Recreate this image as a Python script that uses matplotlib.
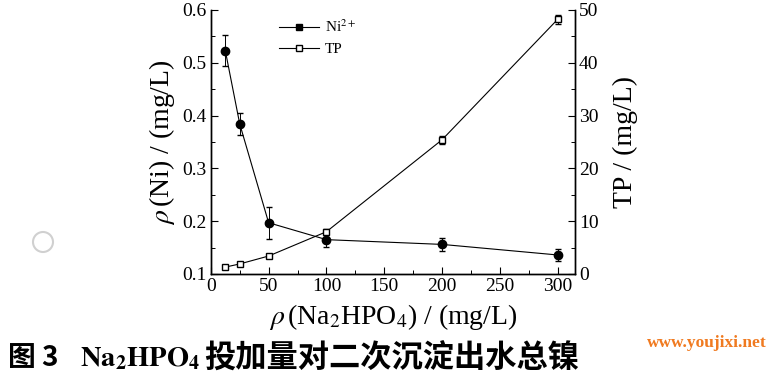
import numpy as np
import matplotlib
matplotlib.use("Agg")
import matplotlib.pyplot as plt
from matplotlib.ticker import MultipleLocator
from matplotlib.patches import Ellipse

plt.rcParams["font.family"] = ["Liberation Serif", "Noto Sans CJK SC"]
plt.rcParams["mathtext.fontset"] = "stix"

# data
dose = [12.5, 25, 50, 100, 200, 300]            # Na2HPO4, mg/L
ni = [0.523, 0.384, 0.197, 0.165, 0.156, 0.136]  # mg/L
ni_err = [0.030, 0.020, 0.030, 0.013, 0.012, 0.012]
tp = [1.3, 1.9, 3.4, 8.0, 25.4, 48.2]            # mg/L
tp_err = [0.3, 0.3, 0.4, 0.6, 0.7, 0.8]

g_tick_fs = 14
g_label_fs = 20

fig = plt.figure(figsize=(7.78, 3.80), dpi=100)
ax = fig.add_axes([0.271, 0.279, 0.468, 0.695])
ax2 = ax.twinx()

ax.errorbar(dose, ni, yerr=ni_err, color="black", lw=0.8, marker="o", ms=6,
            mfc="black", mec="black", capsize=2.5, elinewidth=0.7, zorder=3)
ax2.errorbar(dose, tp, yerr=tp_err, color="black", lw=0.8, marker="s", ms=5,
             mfc="white", mec="black", capsize=2.5, elinewidth=0.7, zorder=3)

ax.set_xlim(0, 315)
ax.set_ylim(0.1, 0.6)
ax2.set_ylim(0, 50)

ax.xaxis.set_major_locator(MultipleLocator(50))
ax.xaxis.set_minor_locator(MultipleLocator(25))
ax.yaxis.set_major_locator(MultipleLocator(0.1))
ax.yaxis.set_minor_locator(MultipleLocator(0.05))
ax2.yaxis.set_major_locator(MultipleLocator(10))
ax2.yaxis.set_minor_locator(MultipleLocator(5))
ax.yaxis.set_major_formatter(plt.FuncFormatter(lambda v, p: "%.1f" % v))

for a in (ax, ax2):
    a.tick_params(which="major", direction="in", length=5, width=0.8, labelsize=g_tick_fs, pad=3)
    a.tick_params(which="minor", direction="in", length=3, width=0.7)
    for s in a.spines.values():
        s.set_linewidth(1.0)
ax.spines["top"].set_visible(False)
ax2.spines["top"].set_visible(False)

ax.set_xlabel(r"$\rho\,$(Na$_2$HPO$_4$) / (mg/L)", fontsize=g_label_fs, labelpad=5)
ax.set_ylabel(r"$\rho\,$(Ni) / (mg/L)", fontsize=g_label_fs, labelpad=4)
ax2.set_ylabel("TP / (mg/L)", fontsize=g_label_fs, labelpad=10)

# legend without error bars, like the original
legend_lines = [
    plt.Line2D((0, 0), (0, 0), color="black", lw=0.8, marker="s", ms=4.5, mfc="black", mec="black"),
    plt.Line2D((0, 0), (0, 0), color="black", lw=0.8, marker="s", ms=4, mfc="white", mec="black"),
]
legend_labels = ["Ni$^{2+}$", "TP"]
ax.legend(legend_lines, legend_labels, loc="upper left", bbox_to_anchor=(0.15, 1.02),
          frameon=False, fontsize=11, handlelength=2.6, labelspacing=0.5, handletextpad=0.4)

# caption and page artefacts
fig.text(0.010, 0.057, "图 3", fontsize=20, fontweight="bold", family="Noto Sans CJK SC", va="center")
fig.text(0.103, 0.057, r"$\mathbf{Na_2HPO_4}$", fontsize=20.5, va="center")
fig.text(0.262, 0.057, "投加量对二次沉淀出水总镍", fontsize=22.5, fontweight="bold",
         family="Noto Sans CJK SC", va="center")
fig.text(0.908, 0.097, "www.youjixi.net", fontsize=12.5, fontweight="bold", color="#f07a20",
         ha="center", va="center")
fig.patches.append(Ellipse((43 / 778, 1 - 242 / 380), 20 / 778, 20 / 380,
                           transform=fig.transFigure, fill=False, ec="#d0d0d0", lw=1.5))

plt.savefig("out.png", dpi=100)
